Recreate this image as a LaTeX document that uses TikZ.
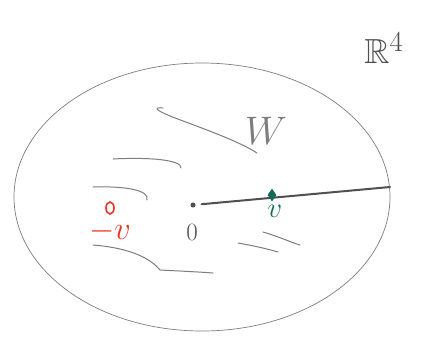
\documentclass[tikz,border=0pt]{standalone}
\usepackage{amssymb}
\usetikzlibrary{positioning,calc}
\usetikzlibrary{shapes.geometric}
\definecolor{pencil}{RGB}{125,125,125}
\definecolor{lead}{RGB}{80,80,80}
\definecolor{redpen}{RGB}{238,52,40}
\definecolor{greenpen}{RGB}{22,105,88}
\tikzset{
  sketch/.style={draw=pencil, line width=0.7pt, line cap=round},
  hatch/.style={draw=pencil, line width=1pt, line cap=round},
  ray/.style={draw=lead, line width=2pt, line cap=round},
  lbl/.style={inner sep=0pt, text=lead, font=\Huge, transform shape},
  pointmark/.style={inner sep=0pt}
}

\begin{document}
\begin{tikzpicture}[x=1pt,y=-1pt]
      \useasboundingbox (0,0) rectangle (430,338);
      % the space and the subspace
      \draw[sketch] (202,197) ellipse (188 and 134);
      \node[lbl, scale=1.4] (space) at (384,48) {$\mathbb{R}^4$};
      \node[lbl, text=pencil, scale=1.6] (sub) at (266,131) {$W$};
      % hatching
      \draw[hatch] (163,108) .. controls (150,107) and (160,112) .. (175,118) .. controls (210,131) and (240,142) .. (257,153);
      \draw[hatch] (113,159) .. controls (150,157) and (182,160) .. (181,168);
      \draw[hatch] (93,187) .. controls (125,186) and (150,190) .. (147,200);
      \draw[hatch] (93,245) .. controls (130,248) and (150,258) .. (160,270) .. controls (180,271) and (200,272) .. (213,273);
      \draw[hatch] (238,243) .. controls (255,246) and (268,249) .. (278,252);
      \draw[hatch] (263,232) .. controls (280,237) and (290,242) .. (300,245);
      % origin and ray through v
      \node[circle, fill=lead, inner sep=0pt, minimum size=5pt] (o) at (193,205) {};
      \node[lbl] (olabel) at (192,232) {0};
      \coordinate (rim) at (390,187);
      \draw[ray, shorten <=6pt] (o) -- (rim);
      \node[pointmark, diamond, fill=greenpen, minimum width=9pt, minimum height=13pt] (v) at (272,195) {};
      \node[lbl, text=greenpen, scale=1.15] (vlabel) at (275,211) {$v$};
      % minus v
      \node[pointmark, ellipse, draw=redpen, line width=1.6pt, minimum width=8pt, minimum height=12pt] (mv) at (110,208) {};
      \node[lbl, text=redpen, scale=1.3] (mvlabel) at (110,231) {$-v$};
\end{tikzpicture}
\end{document}
